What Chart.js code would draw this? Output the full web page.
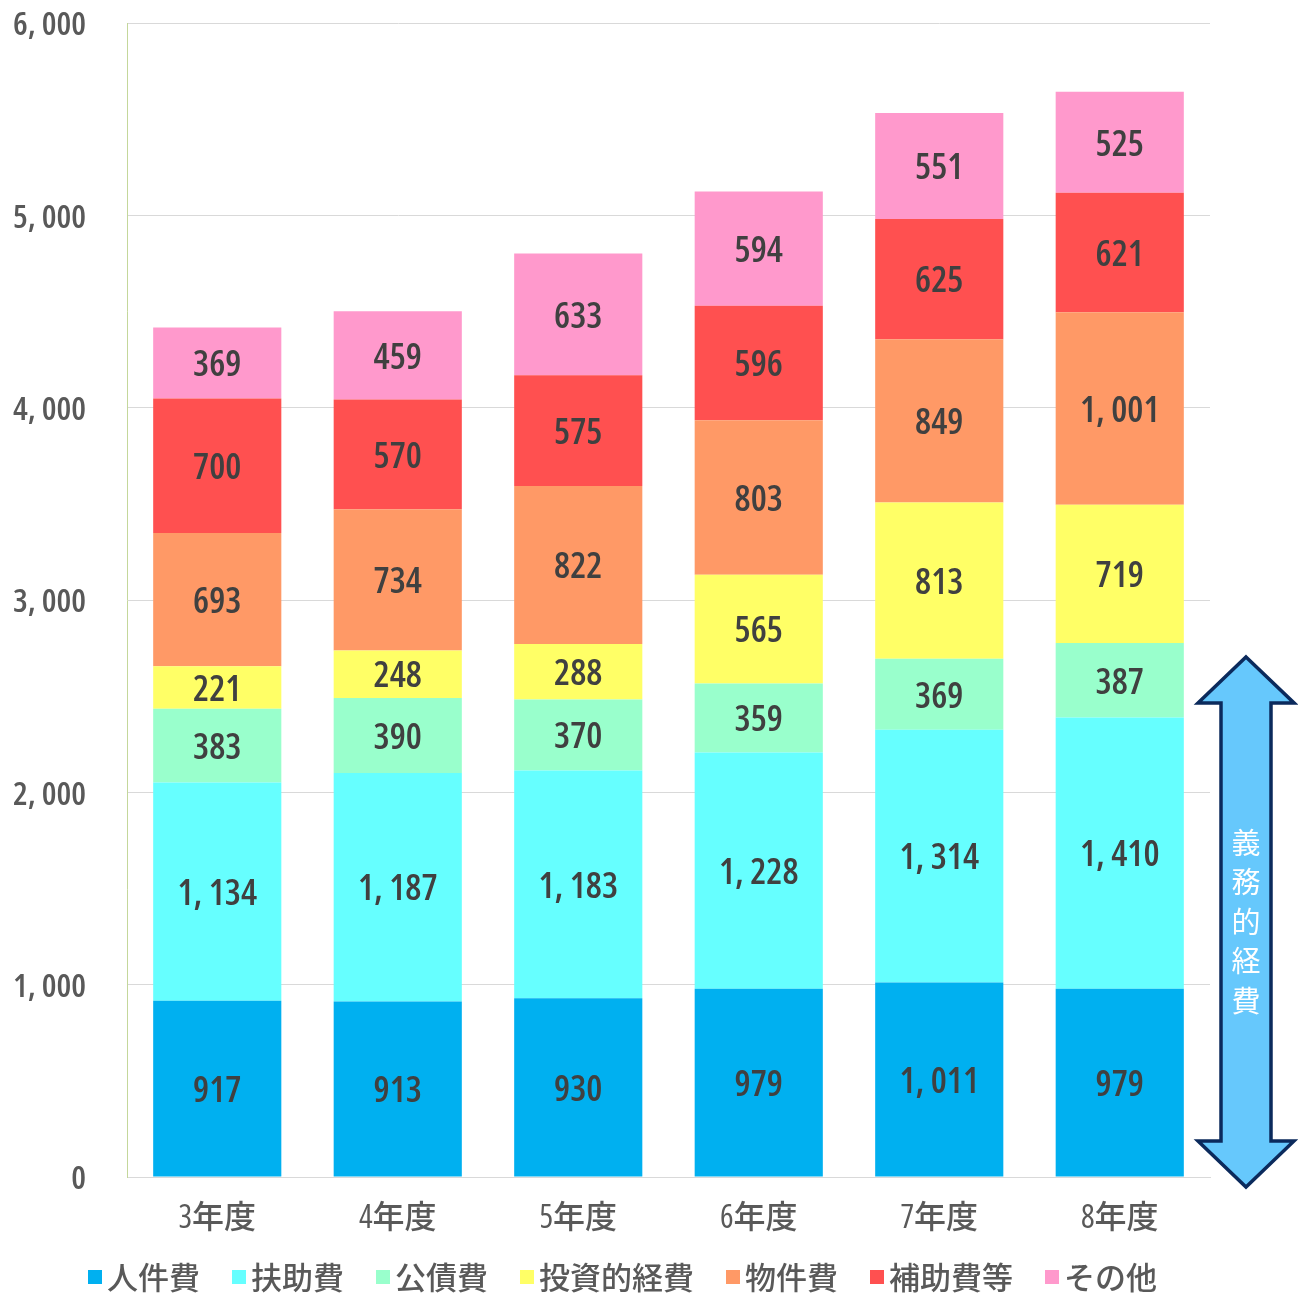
<!DOCTYPE html>
<html>
<head>
<meta charset="utf-8">
<script src="https://cdn.jsdelivr.net/npm/chart.js@4/dist/chart.umd.min.js"></script>
<style>
  html, body { margin: 0; padding: 0; background: #ffffff; }
  #wrap { width: 1298px; height: 1295px; }
</style>
</head>
<body>
<div id="wrap"><canvas id="c" width="1298" height="1295"></canvas></div>
<script>
// 年度別 歳出（性質別）の内訳
const categories = ['3年度', '4年度', '5年度', '6年度', '7年度', '8年度'];
const personnel  = [917, 913, 930, 979, 1011, 979];     // 人件費
const welfare    = [1134, 1187, 1183, 1228, 1314, 1410]; // 扶助費
const debt       = [383, 390, 370, 359, 369, 387];       // 公債費
const investment = [221, 248, 288, 565, 813, 719];       // 投資的経費
const goods      = [693, 734, 822, 803, 849, 1001];      // 物件費
const subsidies  = [700, 570, 575, 596, 625, 621];       // 補助費等
const others     = [369, 459, 633, 594, 551, 525];       // その他
const seriesNames = ['人件費', '扶助費', '公債費', '投資的経費', '物件費', '補助費等', 'その他'];
const seriesColors = ['#00b0f0', '#66ffff', '#99ffcc', '#ffff66', '#ff9966', '#ff5050', '#ff99cc'];
const yTicks = [0, 1000, 2000, 3000, 4000, 5000, 6000];
const bracketLabel = '義務的経費';
// 義務的経費の矢印が指す範囲（軸の値）
const bracketRange = [-52, 2704];

const NUM_FONT = '"Open Sans", "Noto Sans CJK JP", sans-serif';
const CJK_FONT = '"Noto Sans CJK JP", sans-serif';

function fmt(v) {
  return v.toLocaleString('en-US').replace(',', ', ');
}

const values = [personnel, welfare, debt, investment, goods, subsidies, others];

// 数字は幅の狭い字形で描く（font を設定するたびに condensed を適用）
function useCondensedText(ctx) {
  const desc = Object.getOwnPropertyDescriptor(CanvasRenderingContext2D.prototype, 'font');
  Object.defineProperty(ctx, 'font', {
    configurable: true,
    get() { return desc.get.call(this); },
    set(v) { desc.set.call(this, v); this.fontStretch = 'condensed'; }
  });
}

// 各区画の中央に値を描く
const segmentLabels = {
  id: 'segmentLabels',
  afterDatasetsDraw(chart) {
    const ctx = chart.ctx;
    ctx.save();
    ctx.font = '600 36px ' + NUM_FONT;
    ctx.fillStyle = '#404040';
    ctx.textAlign = 'center';
    ctx.textBaseline = 'middle';
    chart.data.datasets.forEach((ds, i) => {
      const meta = chart.getDatasetMeta(i);
      meta.data.forEach((bar, j) => {
        const y = (bar.y + bar.base) / 2;
        ctx.fillText(fmt(ds.data[j]), bar.x, y + 3);
      });
    });
    ctx.restore();
  }
};

// 凡例（四角 + 名称）を下部に並べる
const bottomLegend = {
  id: 'bottomLegend',
  afterDraw(chart) {
    const ctx = chart.ctx;
    ctx.save();
    ctx.font = '500 31px ' + CJK_FONT;
    ctx.textBaseline = 'middle';
    ctx.textAlign = 'left';
    let x = 88;
    const yc = 1277;
    chart.data.datasets.forEach(ds => {
      ctx.fillStyle = ds.backgroundColor;
      ctx.fillRect(x, yc - 7, 14, 14);
      x += 14 + 5;
      ctx.fillStyle = '#595959';
      ctx.fillText(ds.label, x, yc);
      x += ctx.measureText(ds.label).width + 32;
    });
    ctx.restore();
  }
};

// 義務的経費を示す両矢印
const bracketArrow = {
  id: 'bracketArrow',
  afterDraw(chart) {
    const ctx = chart.ctx;
    const ys = chart.scales.y;
    const cx = chart.chartArea.right + 36;
    const top = ys.getPixelForValue(bracketRange[1]);
    const bot = ys.getPixelForValue(bracketRange[0]);
    const headW = 48, headH = 46, shaftW = 25;
    ctx.save();
    ctx.beginPath();
    ctx.moveTo(cx, top);
    ctx.lineTo(cx + headW, top + headH);
    ctx.lineTo(cx + shaftW, top + headH);
    ctx.lineTo(cx + shaftW, bot - headH);
    ctx.lineTo(cx + headW, bot - headH);
    ctx.lineTo(cx, bot);
    ctx.lineTo(cx - headW, bot - headH);
    ctx.lineTo(cx - shaftW, bot - headH);
    ctx.lineTo(cx - shaftW, top + headH);
    ctx.lineTo(cx - headW, top + headH);
    ctx.closePath();
    ctx.fillStyle = '#66c8fc';
    ctx.fill();
    ctx.lineWidth = 3.5;
    ctx.lineJoin = 'miter';
    ctx.strokeStyle = '#0b2a5c';
    ctx.stroke();

    ctx.font = '29px ' + CJK_FONT;
    ctx.fillStyle = '#ffffff';
    ctx.textAlign = 'center';
    ctx.textBaseline = 'middle';
    const chars = Array.from(bracketLabel);
    const step = 39.5;
    const mid = (top + bot) / 2;
    chars.forEach((ch, k) => {
      ctx.fillText(ch, cx, mid + (k - (chars.length - 1) / 2) * step);
    });
    ctx.restore();
  }
};

const canvas = document.getElementById('c');
const context = canvas.getContext('2d');
useCondensedText(context);

new Chart(context, {
  type: 'bar',
  data: {
    labels: categories,
    datasets: seriesNames.map((name, i) => ({
      label: name,
      data: values[i],
      backgroundColor: seriesColors[i],
      borderWidth: 0,
      barPercentage: 0.71,
      categoryPercentage: 1.0
    }))
  },
  options: {
    responsive: false,
    animation: false,
    devicePixelRatio: 1,
    layout: { padding: { top: 23, right: 88, bottom: 48, left: 0 } },
    plugins: {
      legend: { display: false },
      tooltip: { enabled: false }
    },
    scales: {
      x: {
        stacked: true,
        grid: { display: false, drawTicks: false },
        border: { display: true, color: '#d9d9d9', width: 1 },
        ticks: {
          color: '#595959',
          font: { family: NUM_FONT, size: 32, weight: '500' },
          padding: 23
        },
        afterFit(scale) { scale.height = 70; }
      },
      y: {
        stacked: true,
        min: 0,
        max: 6000,
        afterBuildTicks(scale) { scale.ticks = yTicks.map(v => ({ value: v })); },
        grid: { color: '#d9d9d9', lineWidth: 1, drawTicks: false },
        border: { display: true, color: '#c4d79b', width: 1 },
        ticks: {
          color: '#595959',
          font: { family: NUM_FONT, size: 33, weight: '600' },
          padding: 41,
          labelOffset: 3,
          callback: v => fmt(v)
        },
        afterFit(scale) {
          scale.width = 127;
          scale.paddingTop = 10;
          scale.paddingBottom = 10;
        }
      }
    }
  },
  plugins: [segmentLabels, bottomLegend, bracketArrow]
});
</script>
</body>
</html>
